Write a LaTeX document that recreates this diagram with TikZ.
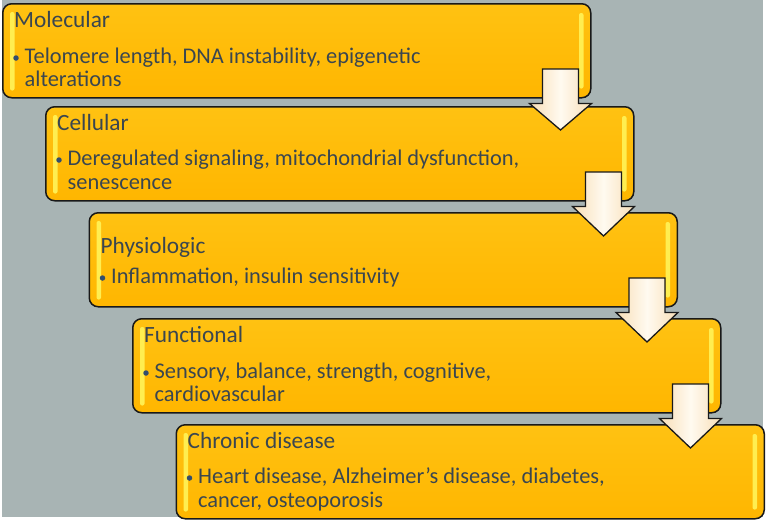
\documentclass[tikz,border=0pt]{standalone}
\usepackage{fontspec}
\setmainfont{Carlito}
\usetikzlibrary{calc}
\definecolor{bg}{RGB}{168,180,180}
\definecolor{boxtop}{RGB}{255,194,18}
\definecolor{boxbot}{RGB}{255,182,0}
\definecolor{stripe}{RGB}{255,238,80}
\definecolor{txt}{RGB}{58,70,80}
\definecolor{bul}{RGB}{50,78,110}
\definecolor{arrowside}{RGB}{248,222,182}
\definecolor{arrowmid}{RGB}{255,250,240}
\definecolor{edge}{RGB}{25,25,25}
\tikzset{
  stagebox/.style={draw=edge, line width=1.5pt, rounded corners=9pt, top color=boxtop, bottom color=boxbot,
    minimum width=588pt, minimum height=94pt, anchor=north west, inner sep=0pt},
  glint/.style={fill=stripe, rounded corners=2pt},
  titletext/.style={anchor=base west, inner sep=0pt, text=txt, font=\fontsize{23.3}{27}\selectfont},
  bodytext/.style={anchor=base west, inner sep=0pt, text=txt, font=\fontsize{22.4}{24}\selectfont},
  dot/.style={circle, fill=bul, inner sep=0pt, minimum size=5.5pt},
  flowarrow/.style={draw=edge, line width=1.3pt, line join=miter, left color=arrowside, right color=arrowside, middle color=arrowmid},
}
\newcommand\blockdown[2]{%
  \coordinate (ax) at ($(#1.north east)+(-31,0)$);
  \coordinate (ay) at ($(#2.north)+(0,24)$);
  \coordinate (ab) at (ax |- #1.south);
  \path[flowarrow] ($(ax)+(-18,66)$) -- ($(ax)+(18,66)$) -- ($(ab)+(18,5)$) -- ($(ab)+(31,5)$)
    -- (ax |- ay) -- ($(ab)+(-31,5)$) -- ($(ab)+(-18,5)$) -- cycle;
}
\begin{document}
\begin{tikzpicture}[x=1pt,y=-1pt]
\useasboundingbox (0,0) rectangle (767,520);
\fill[bg] (2,0) rectangle (763,517);

\node[stagebox] (b1) at (2,3) {};
\node[stagebox] (b2) at (45,106) {};
\node[stagebox] (b3) at (88.5,212) {};
\node[stagebox] (b4) at (132,318) {};
\node[stagebox] (b5) at (175.5,424) {};

\foreach \b in {b1,b2,b3,b4,b5}{
  \fill[glint] ($(\b.north west)+(8,9)$) rectangle ($(\b.south west)+(12.5,-8)$);
  \fill[glint] ($(\b.north east)+(-12.5,10)$) rectangle ($(\b.south east)+(-8,-10)$);
}

% box 1
\node[titletext] (t1) at ($(b1.north west)+(12,24)$) {Molecular};
\node[dot] (d1) at ($(b1.north west)+(14,55)$) {};
\node[bodytext] (l1a) at ($(b1.north west)+(22.5,60)$) {Telomere length, DNA instability, epigenetic};
\node[bodytext] (l1b) at ($(b1.north west)+(22.5,83)$) {alterations};

% box 2
\node[titletext] (t2) at ($(b2.north west)+(12,24)$) {Cellular};
\node[dot] (d2) at ($(b2.north west)+(14,54)$) {};
\node[bodytext] (l2a) at ($(b2.north west)+(22.5,59)$) {Deregulated signaling, mitochondrial dysfunction,};
\node[bodytext] (l2b) at ($(b2.north west)+(22.5,83)$) {senescence};

% box 3
\node[titletext] (t3) at ($(b3.north west)+(12,41)$) {Physiologic};
\node[dot] (d3) at ($(b3.north west)+(14,66)$) {};
\node[bodytext] (l3a) at ($(b3.north west)+(22.5,71)$) {Inflammation, insulin sensitivity};

% box 4
\node[titletext] (t4) at ($(b4.north west)+(12,24)$) {Functional};
\node[dot] (d4) at ($(b4.north west)+(14,55)$) {};
\node[bodytext] (l4a) at ($(b4.north west)+(22.5,60)$) {Sensory, balance, strength, cognitive,};
\node[bodytext] (l4b) at ($(b4.north west)+(22.5,83)$) {cardiovascular};

% box 5
\node[titletext] (t5) at ($(b5.north west)+(12,24)$) {Chronic disease};
\node[dot] (d5) at ($(b5.north west)+(14,54)$) {};
\node[bodytext] (l5a) at ($(b5.north west)+(22.5,59)$) {Heart disease, Alzheimer’s disease, diabetes,};
\node[bodytext] (l5b) at ($(b5.north west)+(22.5,83)$) {cancer, osteoporosis};

\blockdown{b1}{b2}
\blockdown{b2}{b3}
\blockdown{b3}{b4}
\blockdown{b4}{b5}
\end{tikzpicture}
\end{document}
